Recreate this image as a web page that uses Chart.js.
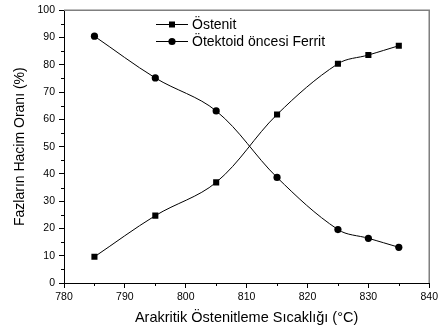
<!DOCTYPE html>
<html>
<head>
<meta charset="utf-8">
<script src="https://cdn.jsdelivr.net/npm/chart.js@4"></script>
<style>
html,body{margin:0;padding:0;background:#fff;}
#wrap{width:441px;height:333px;position:relative;}
</style>
</head>
<body>
<div id="wrap"><canvas id="c" width="441" height="333"></canvas></div>
<script>
// ---- data ----
const temperatures = [785, 795, 805, 815, 825, 830, 835];
const ostenit = [9.6, 24.7, 36.9, 61.8, 80.4, 83.6, 87.0];
const ferrit = [90.5, 75.2, 63.1, 38.7, 19.6, 16.4, 13.1];
const seriesLabels = ['Östenit', 'Ötektoid öncesi Ferrit'];
const xTitle = 'Arakritik Östenitleme Sıcaklığı (°C)';
const yTitle = 'Fazların Hacim Oranı (%)';
const xRange = [780, 840];
const yRange = [0, 100];

const FONT = '"Liberation Sans", Arial, sans-serif';

const toPts = (vals) => temperatures.map((t, i) => ({x: t, y: vals[i]}));

const framePlugin = {
  id: 'frame',
  afterDraw(chart) {
    const {ctx, chartArea: a, scales} = chart;
    ctx.save();
    // grey top/right frame
    ctx.strokeStyle = '#7f7f7f';
    ctx.lineWidth = 1.5;
    ctx.beginPath();
    ctx.moveTo(a.left, a.top);
    ctx.lineTo(a.right, a.top);
    ctx.lineTo(a.right, a.bottom);
    ctx.stroke();
    // minor ticks
    ctx.strokeStyle = '#000';
    ctx.lineWidth = 1;
    ctx.beginPath();
    for (let v = yRange[0] + 5; v < yRange[1]; v += 10) {
      const y = Math.round(scales.y.getPixelForValue(v)) + 0.5;
      ctx.moveTo(a.left - 3, y); ctx.lineTo(a.left, y);
    }
    for (let v = xRange[0] + 5; v < xRange[1]; v += 10) {
      const x = Math.round(scales.x.getPixelForValue(v)) + 0.5;
      ctx.moveTo(x, a.bottom); ctx.lineTo(x, a.bottom + 3);
    }
    ctx.stroke();
    // legend
    const rows = [24, 41];
    chart.data.datasets.forEach((ds, i) => {
      const y = rows[i];
      ctx.strokeStyle = '#000';
      ctx.lineWidth = 1;
      ctx.beginPath();
      ctx.moveTo(156, y + 0.5); ctx.lineTo(188, y + 0.5);
      ctx.stroke();
      ctx.fillStyle = '#000';
      if (ds.pointStyle === 'rect') {
        ctx.fillRect(172 - 3, y - 3 + 0.5, 6, 6);
      } else {
        ctx.beginPath();
        ctx.arc(172, y + 0.5, 3.6, 0, Math.PI * 2);
        ctx.fill();
      }
      ctx.font = '14px ' + FONT;
      ctx.textBaseline = 'middle';
      ctx.textAlign = 'left';
      ctx.fillText(ds.label, 192, y + 1);
    });
    ctx.restore();
  }
};

new Chart(document.getElementById('c'), {
  type: 'line',
  data: {
    datasets: [
      {
        label: seriesLabels[0],
        data: toPts(ostenit),
        borderColor: '#000',
        backgroundColor: '#000',
        borderWidth: 1,
        pointStyle: 'rect',
        pointRadius: 4.3,
        pointBorderWidth: 0,
        tension: 0.35
      },
      {
        label: seriesLabels[1],
        data: toPts(ferrit),
        borderColor: '#000',
        backgroundColor: '#000',
        borderWidth: 1,
        pointStyle: 'circle',
        pointRadius: 3.6,
        pointBorderWidth: 0,
        tension: 0.35
      }
    ]
  },
  options: {
    responsive: false,
    animation: false,
    devicePixelRatio: 1,
    layout: {padding: {top: 6, right: 10, left: 0, bottom: 0}},
    plugins: {legend: {display: false}, tooltip: {enabled: false}},
    scales: {
      x: {
        type: 'linear',
        min: xRange[0], max: xRange[1],
        afterFit: s => { s.height = 50; },
        ticks: {stepSize: 10, color: '#000', padding: 3, font: {family: FONT, size: 10.5}, maxRotation: 0},
        grid: {display: true, drawOnChartArea: false, drawTicks: true, tickLength: 5, color: '#000'},
        border: {display: true, color: '#000', width: 1},
        title: {display: true, text: xTitle, color: '#000', font: {family: FONT, size: 14.5}, padding: {top: 0, bottom: 6}}
      },
      y: {
        min: yRange[0], max: yRange[1],
        afterFit: s => { s.width = 64; },
        ticks: {stepSize: 10, color: '#000', padding: 4, font: {family: FONT, size: 10.5}},
        grid: {display: true, drawOnChartArea: false, drawTicks: true, tickLength: 5, color: '#000'},
        border: {display: true, color: '#000', width: 1},
        title: {display: true, text: yTitle, color: '#000', font: {family: FONT, size: 14}, padding: {top: 12, bottom: 0}}
      }
    }
  },
  plugins: [framePlugin]
});
</script>
</body>
</html>
